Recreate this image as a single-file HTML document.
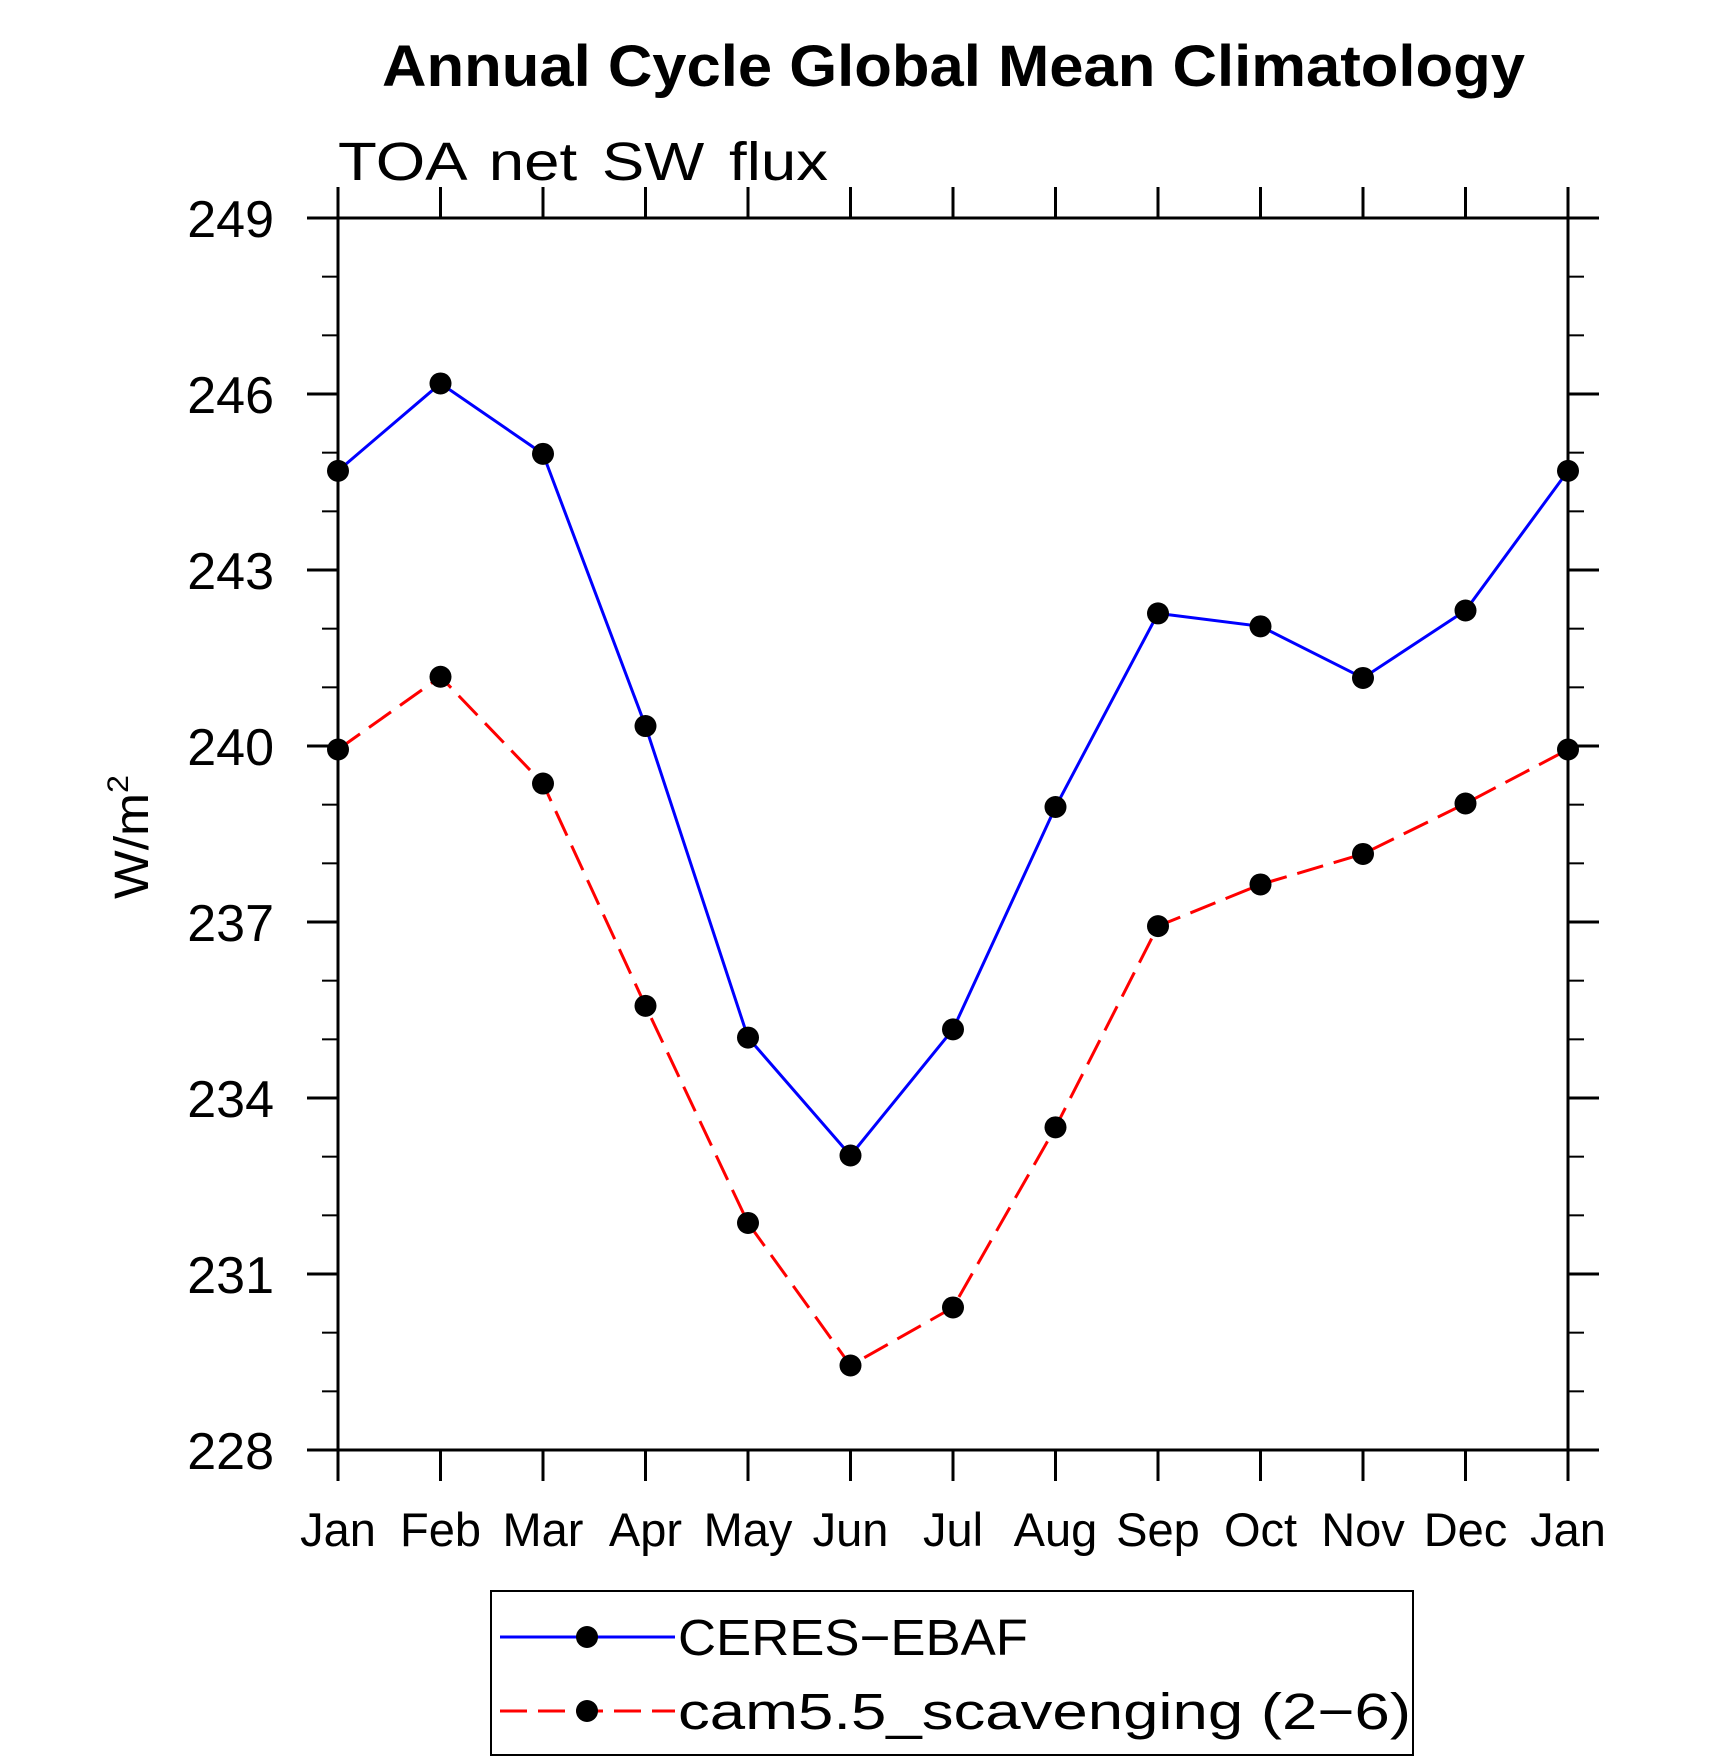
<!DOCTYPE html>
<html><head><meta charset="utf-8"><style>
html,body{margin:0;padding:0;background:#fff;}
svg{display:block;}
text{font-family:"Liberation Sans",sans-serif;}
</style></head><body>
<svg id="chart" width="1710" height="1762" viewBox="0 0 1710 1762" xmlns="http://www.w3.org/2000/svg">
<text x="382" y="86" font-size="58" font-weight="bold" textLength="1143" lengthAdjust="spacingAndGlyphs">Annual Cycle Global Mean Climatology</text>
<text x="338" y="180" font-size="54" font-weight="300" word-spacing="6" textLength="490" lengthAdjust="spacingAndGlyphs">TOA net SW flux</text>
<text transform="translate(148,837) rotate(-90)" text-anchor="middle" font-size="48" textLength="124" lengthAdjust="spacingAndGlyphs">W/m<tspan font-size="30" dy="-20">2</tspan></text>
<g id="axes"></g>
<g id="series"></g>
<g>
<rect x="491" y="1591" width="922" height="164" fill="none" stroke="#000" stroke-width="2"/>
<line x1="500" y1="1637" x2="675" y2="1637" stroke="#0000ff" stroke-width="3"/>
<circle cx="587" cy="1637" r="11" fill="#000"/>
<text x="678" y="1655" font-size="51" textLength="350" lengthAdjust="spacingAndGlyphs">CERES−EBAF</text>
<line x1="500" y1="1711" x2="675" y2="1711" stroke="#ff0000" stroke-width="3" stroke-dasharray="27,11"/>
<circle cx="587" cy="1711" r="11" fill="#000"/>
<text x="678" y="1729" font-size="51" textLength="733" lengthAdjust="spacingAndGlyphs">cam5.5_scavenging (2−6)</text>
</g>
</svg>
<script>
const months = ["Jan","Feb","Mar","Apr","May","Jun","Jul","Aug","Sep","Oct","Nov","Dec","Jan"];
const ceresValues = [244.69,246.18,244.98,240.34,235.03,233.02,235.17,238.96,242.26,242.04,241.16,242.31,244.69];
const camValues = [239.94,241.18,239.36,235.57,231.87,229.44,230.43,233.50,236.93,237.64,238.16,239.02,239.94];
const yTickLabels = [228,231,234,237,240,243,246,249];

const NS = "http://www.w3.org/2000/svg";
const L = 338, R = 1568, T = 218, B = 1450;
const yMin = 228, yMax = 249;
function xScale(i){ return L + i*(R-L)/(months.length-1); }
function yScale(v){ return B - (v-yMin)*(B-T)/(yMax-yMin); }
function mk(tag, attrs, parent){
  const e = document.createElementNS(NS, tag);
  for (const k in attrs) e.setAttribute(k, attrs[k]);
  parent.appendChild(e); return e;
}
const axes = document.getElementById('axes');
const frame = mk('rect',{x:L,y:T,width:R-L,height:B-T,fill:'none',stroke:'#000','stroke-width':3},axes);


for (let v = yMin; v <= yMax; v++) {
  const y = yScale(v);
  const major = (v - yMin) % 3 === 0;
  const len = major ? 31 : 16;
  const t1 = mk('line',{x1:L-len,y1:y,x2:L,y2:y,stroke:'#000','stroke-width':major?3:2},axes);
  
  
  const t2 = mk('line',{x1:R,y1:y,x2:R+len,y2:y,stroke:'#000','stroke-width':major?3:2},axes);
  
  
}
yTickLabels.forEach(v => {
  const t = mk('text',{x:274,y:yScale(v)+19,'text-anchor':'end','font-size':52},axes);
  t.textContent = v;
  
  
});
months.forEach((m,i) => {
  const x = xScale(i);
  const a = mk('line',{x1:x,y1:T-31,x2:x,y2:T,stroke:'#000','stroke-width':3},axes);
  
  
  const b = mk('line',{x1:x,y1:B,x2:x,y2:B+31,stroke:'#000','stroke-width':3},axes);
  
  
  const t = mk('text',{x:x,y:1546,'text-anchor':'middle','font-size':47},axes);
  t.textContent = m;
  
  
});
const series = document.getElementById('series');
function drawSeries(vals, color, dash, name){
  const pts = vals.map((v,i)=>xScale(i)+','+yScale(v)).join(' ');
  const attrs = {points:pts,fill:'none',stroke:color,'stroke-width':3};
  if (dash) attrs['stroke-dasharray'] = dash;
  const pl = mk('polyline',attrs,series);
  
  
  vals.forEach((v,i)=>{
    const c = mk('circle',{cx:xScale(i),cy:yScale(v),r:11,fill:'#000'},series);
    
    
  });
}
drawSeries(ceresValues,'#0000ff',null,'ceres-ebaf');
drawSeries(camValues,'#ff0000','27,11','cam5-5-scavenging');
</script>
</body></html>
